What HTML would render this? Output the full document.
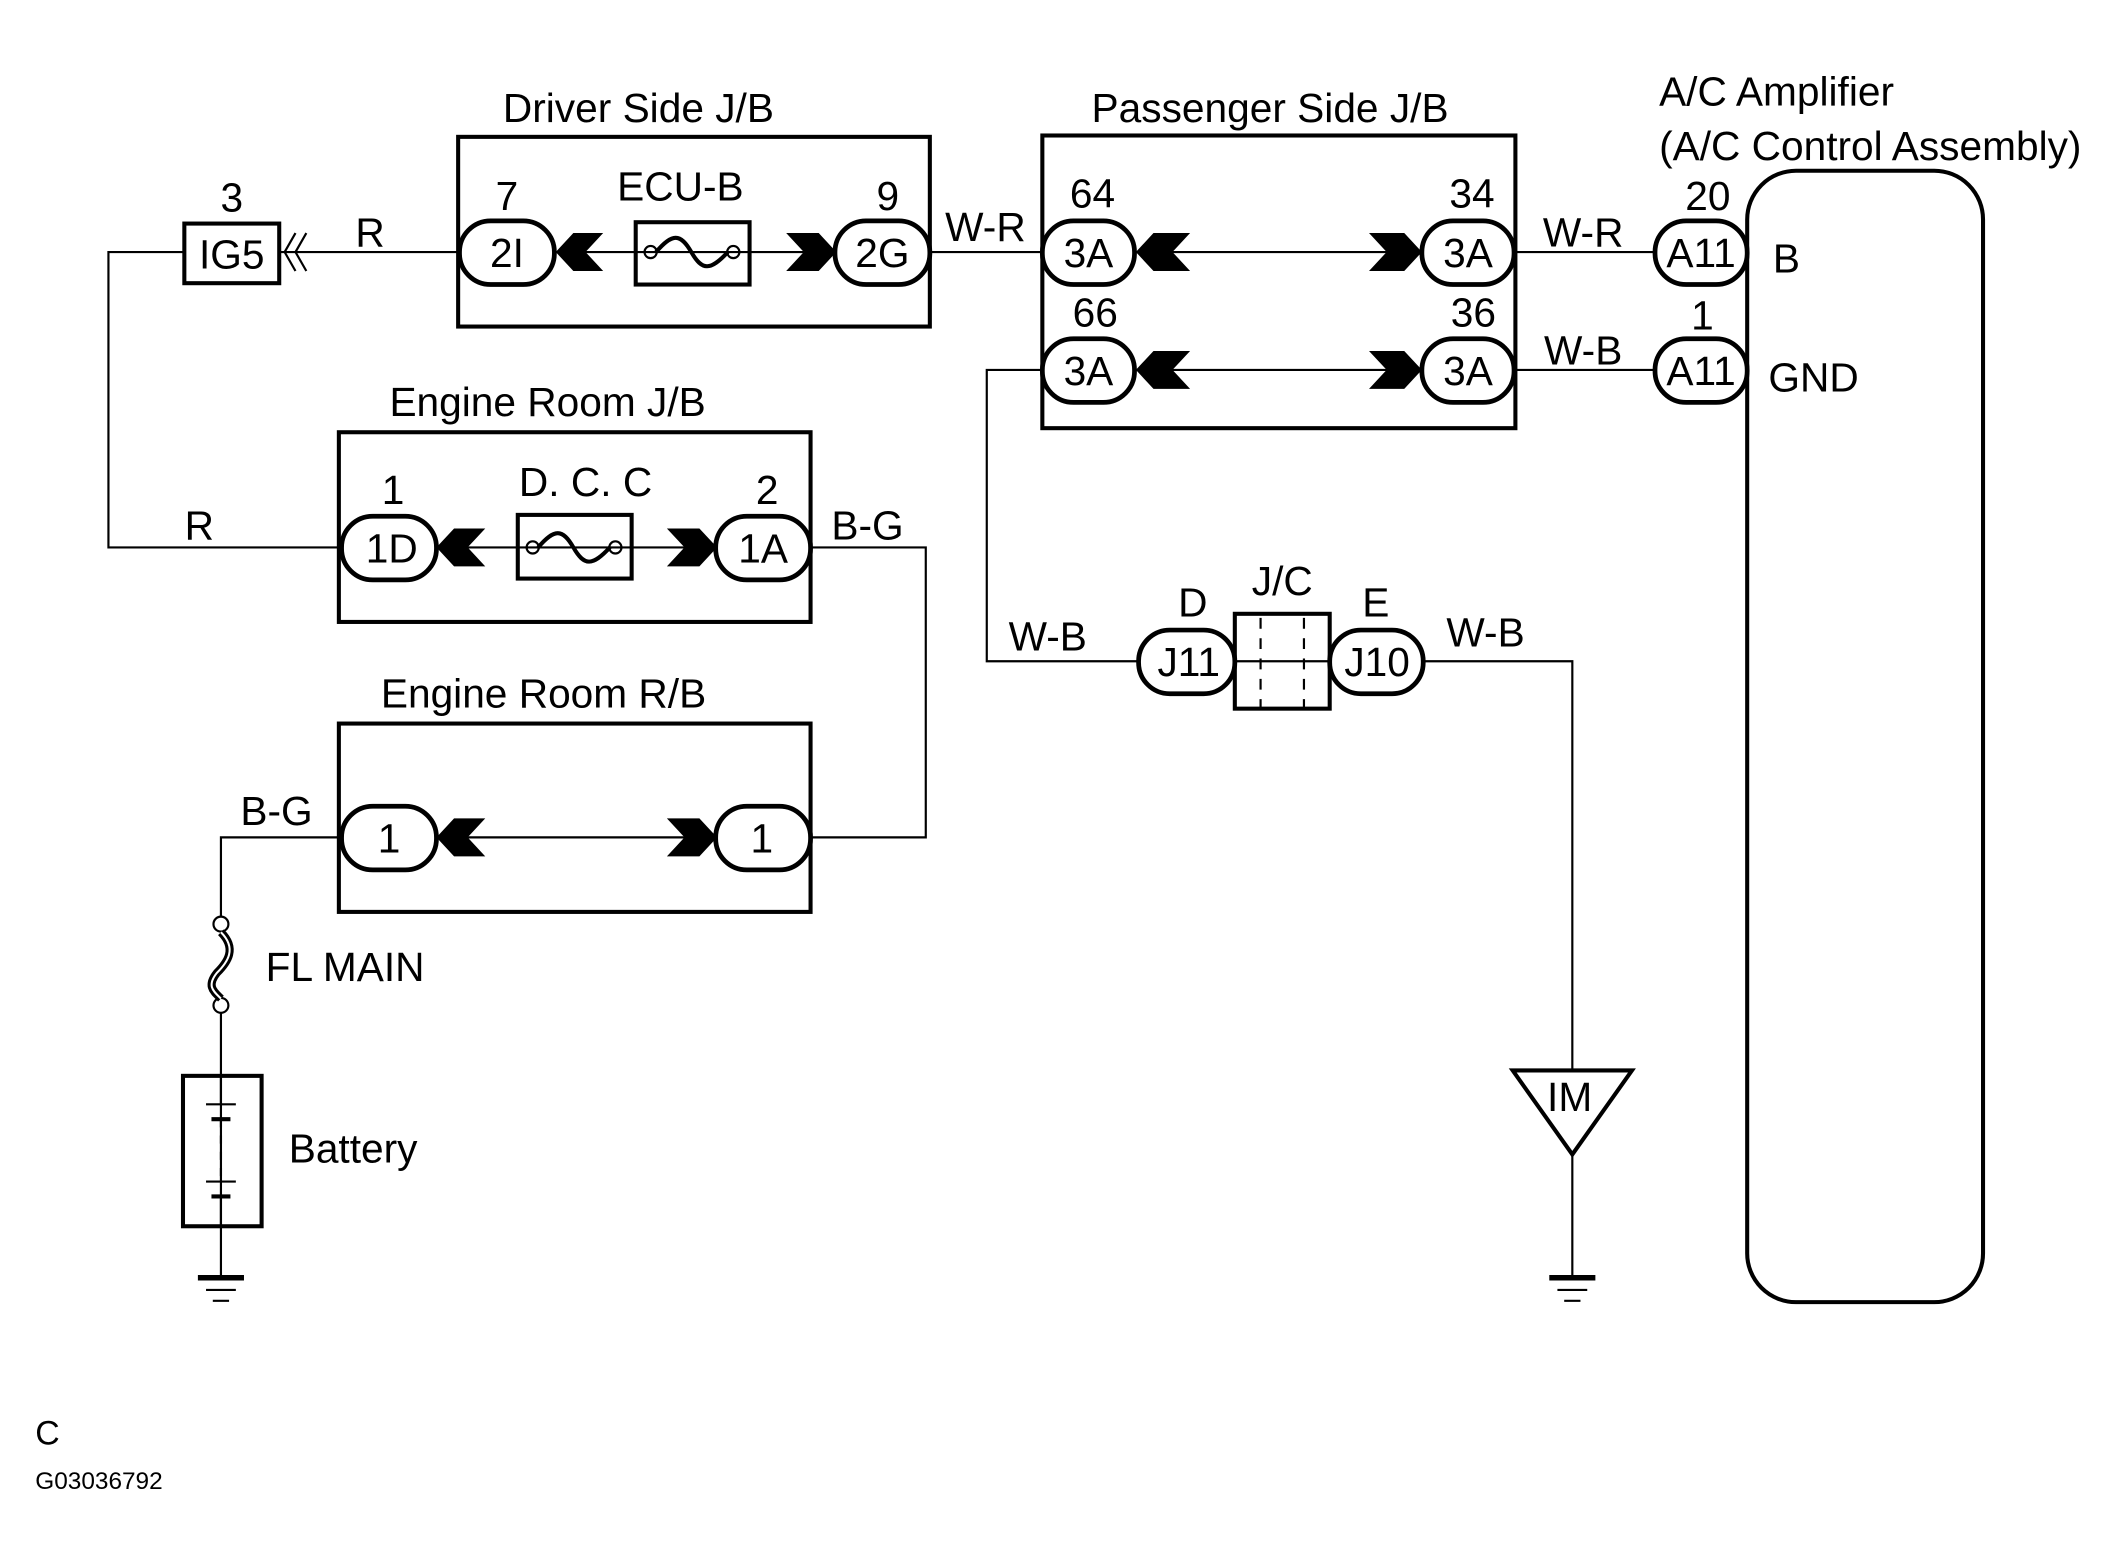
<!DOCTYPE html>
<html><head><meta charset="utf-8"><style>
html,body{margin:0;padding:0;background:#fff;width:2124px;height:1565px;overflow:hidden}
svg{display:block}
text{font-family:"Liberation Sans",Arial,sans-serif;font-size:30px;fill:#000}
.c{text-anchor:middle}
</style></head><body>
<svg width="2124" height="1565" viewBox="0 0 1567 1155" preserveAspectRatio="none" xmlns="http://www.w3.org/2000/svg">
<g fill="none" stroke="#000" stroke-width="1.6">
<polyline points="136,186 80,186 80,404 254,404"/>
<line x1="206" y1="186" x2="340" y2="186"/>
<line x1="408" y1="186" x2="615" y2="186"/>
<line x1="686" y1="186" x2="771" y2="186"/>
<line x1="320" y1="404" x2="530" y2="404"/>
<polyline points="596,404 683,404 683,618 596,618"/>
<line x1="320" y1="618" x2="530" y2="618"/>
<polyline points="254,618 163,618 163,677"/>
<line x1="163" y1="748" x2="163" y2="943"/>
<line x1="837" y1="186" x2="1050" y2="186"/>
<line x1="837" y1="273" x2="1050" y2="273"/>
<line x1="1116" y1="186" x2="1222" y2="186"/>
<line x1="1116" y1="273" x2="1222" y2="273"/>
<polyline points="771,273 728,273 728,488 842,488"/>
<line x1="911" y1="488" x2="981" y2="488"/>
<polyline points="1048,488 1160,488 1160,790"/>
<line x1="1160" y1="852" x2="1160" y2="943"/>
<line x1="146" y1="943" x2="180" y2="943" stroke-width="4"/>
<line x1="152" y1="952" x2="174" y2="952"/>
<line x1="157" y1="960" x2="169" y2="960"/>
<line x1="1143" y1="943" x2="1177" y2="943" stroke-width="4"/>
<line x1="1149" y1="952" x2="1171" y2="952"/>
<line x1="1154" y1="960" x2="1166" y2="960"/>
</g>
<g fill="none" stroke="#000" stroke-width="3">
<rect x="338" y="101" width="348" height="140"/>
<rect x="250" y="319" width="348" height="140"/>
<rect x="250" y="534" width="348" height="139"/>
<rect x="769" y="100" width="349" height="216"/>
<rect x="1289" y="126" width="174" height="835" rx="36"/>
<rect x="136" y="165" width="70" height="44"/>
<rect x="469" y="164" width="84" height="46"/>
<rect x="382" y="380" width="84" height="47"/>
<rect x="911" y="453" width="70" height="70"/>
<rect x="135" y="794" width="58" height="111"/>
<polygon points="1116,790 1204,790 1160,852"/>
</g>
<g fill="#fff" stroke="#000" stroke-width="3.5">
<rect x="339" y="163" width="70" height="47" rx="23"/>
<rect x="616" y="163" width="70" height="47" rx="23"/>
<rect x="252" y="381" width="70" height="47" rx="23"/>
<rect x="528" y="381" width="70" height="47" rx="23"/>
<rect x="252" y="595" width="70" height="47" rx="23"/>
<rect x="528" y="595" width="70" height="47" rx="23"/>
<rect x="769" y="163" width="68" height="47" rx="23"/>
<rect x="1049" y="163" width="68" height="47" rx="23"/>
<rect x="769" y="250" width="68" height="47" rx="23"/>
<rect x="1049" y="250" width="68" height="47" rx="23"/>
<rect x="1221" y="163" width="68" height="47" rx="23"/>
<rect x="1221" y="250" width="68" height="47" rx="23"/>
<rect x="840" y="465" width="71" height="47" rx="23"/>
<rect x="981" y="465" width="69" height="47" rx="23"/>
</g>
<g stroke="#000" stroke-width="1.6" stroke-dasharray="8,7">
<line x1="930" y1="456" x2="930" y2="522"/>
<line x1="962" y1="456" x2="962" y2="522"/>
</g>
<g fill="#000">
<polygon points="410,186 423,172 445,172 432,186 445,200 423,200"/>
<polygon points="617,186 604,172 580,172 593,186 580,200 604,200"/>
<polygon points="322,404 335,390 358,390 345,404 358,418 335,418"/>
<polygon points="529,404 516,390 492,390 505,404 492,418 516,418"/>
<polygon points="322,618 335,604 358,604 345,618 358,632 335,632"/>
<polygon points="529,618 516,604 492,604 505,618 492,632 516,632"/>
<polygon points="838,186 851,172 878,172 865,186 878,200 851,200"/>
<polygon points="1049,186 1036,172 1010,172 1023,186 1010,200 1036,200"/>
<polygon points="838,273 851,259 878,259 865,273 878,287 851,287"/>
<polygon points="1049,273 1036,259 1010,259 1023,273 1010,287 1036,287"/>
</g>
<g fill="none" stroke="#000" stroke-width="1.6">
<polyline points="218,172 210,186 218,200"/>
<polyline points="226,172 218,186 226,200"/>
<circle cx="480" cy="186" r="4.5"/><circle cx="541" cy="186" r="4.5"/>
<path d="M484,186 C496,172 502,172 510,186 C518,200 524,200 537,186" stroke-width="3"/>
<circle cx="393" cy="404" r="4.5"/><circle cx="454" cy="404" r="4.5"/>
<path d="M397,404 C409,390 415,390 423,404 C431,418 437,418 450,404" stroke-width="3"/>
<circle cx="163" cy="682" r="5.5"/><circle cx="163" cy="742" r="5.5"/>
<path d="M163,688 C175,700 168,710 160,718 C152,728 158,732 163,737" stroke-width="6"/>
<path d="M163,688 C175,700 168,710 160,718 C152,728 158,732 163,737" stroke="#fff" stroke-width="1.5"/>
<line x1="163" y1="794" x2="163" y2="815"/>
<line x1="152" y1="815" x2="174" y2="815"/>
<line x1="156" y1="826" x2="170" y2="826" stroke-width="3"/>
<line x1="163" y1="826" x2="163" y2="872" stroke-dasharray="6,6"/>
<line x1="152" y1="872" x2="174" y2="872"/>
<line x1="156" y1="883" x2="170" y2="883" stroke-width="3"/>
<line x1="163" y1="883" x2="163" y2="905"/>
</g>
<text x="471" y="90" class="c">Driver Side J/B</text>
<text x="937" y="90" class="c">Passenger Side J/B</text>
<text x="404" y="307" class="c">Engine Room J/B</text>
<text x="401" y="522" class="c">Engine Room R/B</text>
<text x="1224" y="78">A/C Amplifier</text>
<text x="1224" y="118">(A/C Control Assembly)</text>
<text x="171" y="156" class="c">3</text>
<text x="171" y="198" class="c">IG5</text>
<text x="273" y="182" class="c">R</text>
<text x="374" y="155" class="c">7</text>
<text x="374" y="197" class="c">2I</text>
<text x="502" y="148" class="c">ECU-B</text>
<text x="655" y="155" class="c">9</text>
<text x="651" y="197" class="c">2G</text>
<text x="727" y="178" class="c">W-R</text>
<text x="806" y="153" class="c">64</text>
<text x="803" y="197" class="c">3A</text>
<text x="1086" y="153" class="c">34</text>
<text x="1083" y="197" class="c">3A</text>
<text x="808" y="241" class="c">66</text>
<text x="803" y="284" class="c">3A</text>
<text x="1087" y="241" class="c">36</text>
<text x="1083" y="284" class="c">3A</text>
<text x="1168" y="182" class="c">W-R</text>
<text x="1168" y="269" class="c">W-B</text>
<text x="1260" y="155" class="c">20</text>
<text x="1255" y="197" class="c">A11</text>
<text x="1256" y="243" class="c">1</text>
<text x="1255" y="284" class="c">A11</text>
<text x="1318" y="201" class="c">B</text>
<text x="1338" y="289" class="c">GND</text>
<text x="147" y="398" class="c">R</text>
<text x="290" y="372" class="c">1</text>
<text x="289" y="415" class="c">1D</text>
<text x="432" y="366" class="c">D. C. C</text>
<text x="566" y="372" class="c">2</text>
<text x="563" y="415" class="c">1A</text>
<text x="640" y="398" class="c">B-G</text>
<text x="287" y="629" class="c">1</text>
<text x="562" y="629" class="c">1</text>
<text x="204" y="609" class="c">B-G</text>
<text x="196" y="724">FL MAIN</text>
<text x="213" y="858">Battery</text>
<text x="773" y="480" class="c">W-B</text>
<text x="880" y="455" class="c">D</text>
<text x="946" y="439" class="c">J/C</text>
<text x="1015" y="455" class="c">E</text>
<text x="877" y="499" class="c">J11</text>
<text x="1016" y="499" class="c">J10</text>
<text x="1096" y="477" class="c">W-B</text>
<text x="1158" y="820" class="c">IM</text>
<text x="26" y="1066" style="font-size:25px">C</text>
<text x="26" y="1099" style="font-size:18px">G03036792</text>
</svg>
</body></html>
